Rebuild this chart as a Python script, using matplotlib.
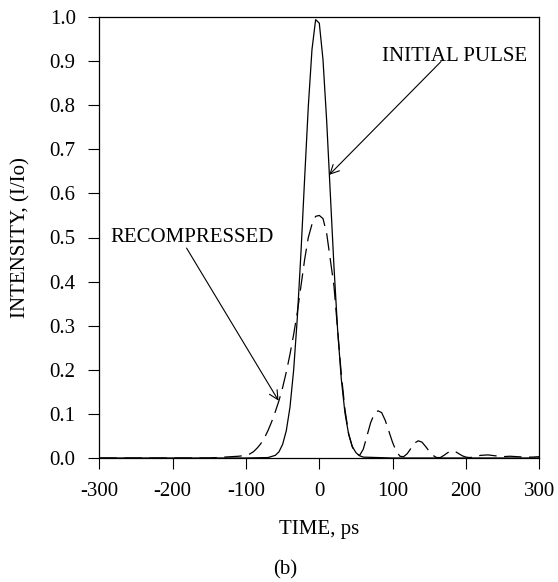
import matplotlib
matplotlib.use("Agg")
import matplotlib.pyplot as plt

plt.rcParams['font.family'] = ['Liberation Serif', 'DejaVu Serif']
plt.rcParams['axes.unicode_minus'] = False

# initial pulse (solid)
t_init = [-300, -150, -100, -70, -60, -55, -50, -45, -40, -35, -30, -25, -20, -15, -10, -5,
          0, 5, 10, 15, 20, 25, 30, 35, 40, 45, 50, 55, 60, 100, 300]
i_init = [0.0, 0.0, 0.0, 0.001, 0.006, 0.014, 0.031, 0.062, 0.115, 0.199, 0.317, 0.466, 0.634, 0.797, 0.926, 0.994,
          0.986, 0.904, 0.766, 0.600, 0.434, 0.290, 0.179, 0.102, 0.054, 0.026, 0.012, 0.005, 0.002, 0.0, 0.0]

# recompressed pulse (dashed)
t_rec = [-300, -200, -150, -140, -120, -110, -100, -95, -90, -85, -80, -75, -70, -65, -60, -55,
         -50, -45, -40, -35, -30, -25, -20, -15, -10, -5, 0, 5, 10, 15, 20, 25, 30, 35, 40, 45,
         50, 55, 60, 65, 70, 75, 80, 85, 90, 95, 100, 105, 110, 115, 120, 125, 130, 135, 140, 145,
         150, 155, 160, 165, 170, 175, 180, 185, 190, 195, 200, 205, 210, 220, 230, 240, 250, 260,
         270, 280, 290, 300]
i_rec = [0.0, 0.0, 0.0, 0.001, 0.003, 0.004, 0.006, 0.009, 0.014, 0.022, 0.032, 0.045, 0.062, 0.082, 0.105, 0.13,
         0.16, 0.195, 0.235, 0.28, 0.33, 0.39, 0.45, 0.50, 0.53, 0.548, 0.55, 0.543, 0.51, 0.45, 0.39, 0.29, 0.19, 0.11, 0.055, 0.025,
         0.01, 0.006, 0.02, 0.05, 0.08, 0.10, 0.107, 0.103, 0.085, 0.06, 0.035, 0.015, 0.004, 0.003, 0.01, 0.022, 0.034, 0.039, 0.036, 0.026,
         0.015, 0.006, 0.001, 0.001, 0.006, 0.012, 0.016, 0.015, 0.01, 0.005, 0.002, 0.001, 0.002, 0.006, 0.007, 0.005, 0.003, 0.004,
         0.003, 0.002, 0.002, 0.003]

xticks = [-300, -200, -100, 0, 100, 200, 300]
yticks = [0.0, 0.1, 0.2, 0.3, 0.4, 0.5, 0.6, 0.7, 0.8, 0.9, 1.0]

fig = plt.figure(figsize=(5.58, 5.82), dpi=100)
ax = fig.add_axes([99.3 / 558, 1 - 458 / 582, 440 / 558, 441 / 582])

ax.plot(t_init, i_init, color='black', linewidth=0.9)
ax.plot(t_rec, i_rec, color='black', linewidth=0.9, dashes=(14, 6))

ax.set_xlim(-300, 300)
ax.set_ylim(0, 1.0)
ax.set_xticks(xticks)
ax.set_xticklabels([str(v) for v in xticks])
ax.set_yticks(yticks)
ax.set_yticklabels(['%.1f' % v for v in yticks])
ax.tick_params(direction='out', length=8, width=0.8, labelsize=15, top=False, right=False)
ax.tick_params(axis='x', pad=9)
ax.tick_params(axis='y', pad=9)
for s in ax.spines.values():
    s.set_linewidth(0.9)

ax.set_xlabel('TIME, ps', fontsize=15)
ax.xaxis.set_label_coords(0.5, -0.163)
ax.xaxis.label.set_va('center')
ax.set_ylabel('INTENSITY, (I/Io)', fontsize=15)
ax.yaxis.set_label_coords(-0.178, 0.5)
ax.yaxis.label.set_va('center')

ax.text(184.5, 0.91, 'INITIAL PULSE', fontsize=15, ha='center', va='center')
ax.annotate('', xy=(13.5, 0.642), xytext=(166, 0.899),
            arrowprops=dict(arrowstyle='->', color='black', lw=0.8, mutation_scale=16,
                            shrinkA=0, shrinkB=0))
ax.text(-173.6, 0.5, 'RECOMPRESSED', fontsize=15, ha='center', va='center')
ax.annotate('', xy=(-55.6, 0.13), xytext=(-181, 0.476),
            arrowprops=dict(arrowstyle='->', color='black', lw=0.8, mutation_scale=16,
                            shrinkA=0, shrinkB=0))

fig.text(285 / 558, 1 - 570 / 582, '(b)', fontsize=15, ha='center', va='center')

fig.savefig('out.png', dpi=100)
